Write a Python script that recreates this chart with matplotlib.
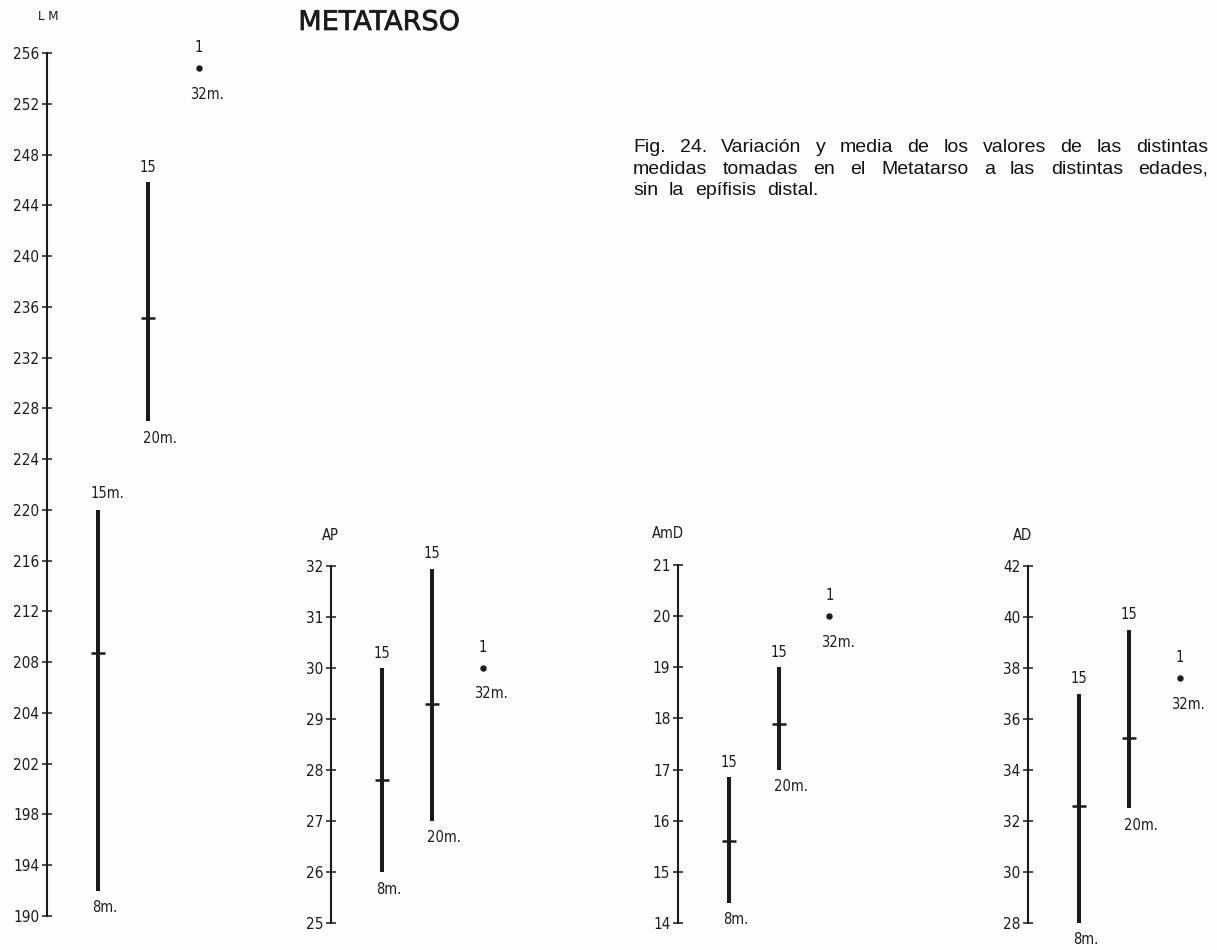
#######################################################################
# Metatarso: variación y media de las medidas según la edad
#######################################################################

import matplotlib
matplotlib.use("Agg")
import matplotlib.pyplot as plt
import matplotlib.patheffects as pe

#######################################################################
# Datos
#######################################################################
edades = ["8m.", "20m.", "32m."]          # etiqueta inferior de cada grupo
n_ind = [15, 15, 1]                       # nº de individuos (etiqueta superior)

# LM
lm_min = [190.0, 227.0, 254.8]
lm_media = [208.7, 235.1, 254.8]
lm_max = [220.0, 245.8, 254.8]
lm_etiq_sup = ["15m.", "15", "1"]
lm_ticks = list(range(188, 257, 4))
lm_ticklabels = ["190", "194", "198", "202", "204", "208", "212", "216", "220",
                 "224", "228", "232", "236", "240", "244", "248", "252", "256"]

# AP
ap_min = [26.0, 27.0, 30.0]
ap_media = [27.8, 29.3, 30.0]
ap_max = [30.0, 31.95, 30.0]
ap_ticks = [25, 26, 27, 28, 29, 30, 31, 32]

# AmD
amd_min = [14.4, 17.0, 20.0]
amd_media = [15.6, 17.9, 20.0]
amd_max = [16.85, 19.0, 20.0]
amd_ticks = [14, 15, 16, 17, 18, 19, 20, 21]

# AD
ad_min = [28.0, 32.5, 37.6]
ad_media = [32.6, 35.25, 37.6]
ad_max = [37.0, 39.5, 37.6]
ad_ticks = [28, 30, 32, 34, 36, 38, 40, 42]

titulo = "METATARSO"
pie = ["Fig. 24. Variación y media de los valores de las distintas",
       "medidas tomadas en el Metatarso a las distintas edades,",
       "sin la epífisis distal."]

#######################################################################
# Maquetación (en píxeles de la imagen)
#######################################################################
W, H, DPI = 1217, 950, 100
UNIDAD_X = 50.5          # píxeles entre grupos
NEGRO = "#1b1b1b"
FUENTE = dict(family="DejaVu Sans", stretch="condensed")


def nuevo_eje(fig, x_eje, y_sup, y_inf, ancho=200):
    """ Crea un eje vertical con la línea izquierda en x_eje (px) """
    ax = fig.add_axes([x_eje / W, 1 - y_inf / H, ancho / W, (y_inf - y_sup) / H])
    ax.set_xlim(0, ancho / UNIDAD_X)
    ax.patch.set_visible(False)
    for lado in ["top", "right", "bottom"]:
        ax.spines[lado].set_visible(False)
    ax.spines["left"].set_linewidth(1.5)
    ax.spines["left"].set_color(NEGRO)
    ax.set_xticks([])
    ax.tick_params(axis="y", direction="inout", length=7, width=1.1,
                   pad=2, colors=NEGRO, labelsize=11)
    return ax


def dibujar_grupos(ax, vmin, media, vmax, etiq_sup):
    """ Barras de variación, media y etiquetas """
    for i in range(len(edades)):
        x = i + 1
        if n_ind[i] > 1:
            ax.plot([x, x], [vmin[i], vmax[i]], color=NEGRO, lw=2.9,
                    solid_capstyle="butt", clip_on=False)
            ax.plot(x, media[i], marker="_", ms=10, mew=1.8, color=NEGRO,
                    clip_on=False)
            # etiqueta superior (nº)
            if etiq_sup[i].endswith("m."):
                ax.annotate(etiq_sup[i], (x, vmax[i]), xytext=(-7, 16),
                            textcoords="offset pixels", ha="left", va="center",
                            fontsize=10.5, color=NEGRO, **FUENTE)
            else:
                ax.annotate(etiq_sup[i], (x, vmax[i]), xytext=(0, 15),
                            textcoords="offset pixels", ha="center", va="center",
                            fontsize=10.5, color=NEGRO, **FUENTE)
            ax.annotate(edades[i], (x, vmin[i]), xytext=(-5, -17),
                        textcoords="offset pixels", ha="left", va="center",
                        fontsize=10.5, color=NEGRO, **FUENTE)
        else:
            ax.plot(x, media[i], "o", ms=3.6, color=NEGRO, clip_on=False)
            ax.annotate(etiq_sup[i], (x, media[i]), xytext=(0, 21),
                        textcoords="offset pixels", ha="center", va="center",
                        fontsize=10.5, color=NEGRO, **FUENTE)
            ax.annotate(edades[i], (x, media[i]), xytext=(-8, -26),
                        textcoords="offset pixels", ha="left", va="center",
                        fontsize=10.5, color=NEGRO, **FUENTE)


def texto_px(fig, x, y, s, **kw):
    return fig.text(x / W, 1 - y / H, s, **kw)


def pie_justificado(fig, lineas, x0, x1, y0, interlinea, gap_ultima=11):
    """ Texto justificado a ambos lados (la última línea a la izquierda) """
    rend = fig.canvas.get_renderer()
    for k, linea in enumerate(lineas):
        y = y0 + k * interlinea
        palabras = linea.split()
        textos = [texto_px(fig, 0, y, p, fontsize=14, family="Liberation Sans",
                           color="#111111", va="baseline", ha="left")
                  for p in palabras]
        anchos = [t.get_window_extent(rend).width for t in textos]
        if k < len(lineas) - 1:
            gap = (x1 - x0 - sum(anchos)) / (len(palabras) - 1)
        else:
            gap = gap_ultima
        x = x0
        for t, a in zip(textos, anchos):
            t.set_x(x / W)
            x += a + gap


#######################################################################
# Figura
#######################################################################
fig = plt.figure(figsize=(W / DPI, H / DPI), dpi=DPI)
fig.patch.set_facecolor("#fdfdfd")

# LM
ax = nuevo_eje(fig, 47, 53, 916)
ax.set_ylim(188, 256)
ax.set_yticks(lm_ticks)
ax.set_yticklabels(lm_ticklabels, **FUENTE)
dibujar_grupos(ax, lm_min, lm_media, lm_max, lm_etiq_sup)
texto_px(fig, 48, 17, "L M", fontsize=9.5, ha="center", va="center", color=NEGRO, **FUENTE)

# AP
ax = nuevo_eje(fig, 331, 566, 923)
ax.set_ylim(25, 32)
ax.set_yticks(ap_ticks)
ax.set_yticklabels([str(v) for v in ap_ticks], **FUENTE)
dibujar_grupos(ax, ap_min, ap_media, ap_max, [str(v) for v in n_ind])
texto_px(fig, 330, 535, "AP", fontsize=10.5, ha="center", va="center", color=NEGRO, **FUENTE)

# AmD
ax = nuevo_eje(fig, 678, 565, 923)
ax.set_ylim(14, 21)
ax.set_yticks(amd_ticks)
ax.set_yticklabels([str(v) for v in amd_ticks], **FUENTE)
dibujar_grupos(ax, amd_min, amd_media, amd_max, [str(v) for v in n_ind])
texto_px(fig, 668, 533, "AmD", fontsize=10.5, ha="center", va="center", color=NEGRO, **FUENTE)

# AD
ax = nuevo_eje(fig, 1028, 566, 923)
ax.set_ylim(28, 42)
ax.set_yticks(ad_ticks)
ax.set_yticklabels([str(v) for v in ad_ticks], **FUENTE)
dibujar_grupos(ax, ad_min, ad_media, ad_max, [str(v) for v in n_ind])
texto_px(fig, 1022, 535, "AD", fontsize=10.5, ha="center", va="center", color=NEGRO, **FUENTE)

# Título y pie (el título algo más grueso, como en el original)
texto_px(fig, 379, 23, titulo, fontsize=19.5, ha="center", va="center", color=NEGRO,
         family="DejaVu Sans",
         path_effects=[pe.withStroke(linewidth=0.5, foreground=NEGRO)])
pie_justificado(fig, pie, 633, 1208, 152, 21.5)

fig.savefig("out.png", dpi=DPI, facecolor=fig.get_facecolor())
#######################################################################
